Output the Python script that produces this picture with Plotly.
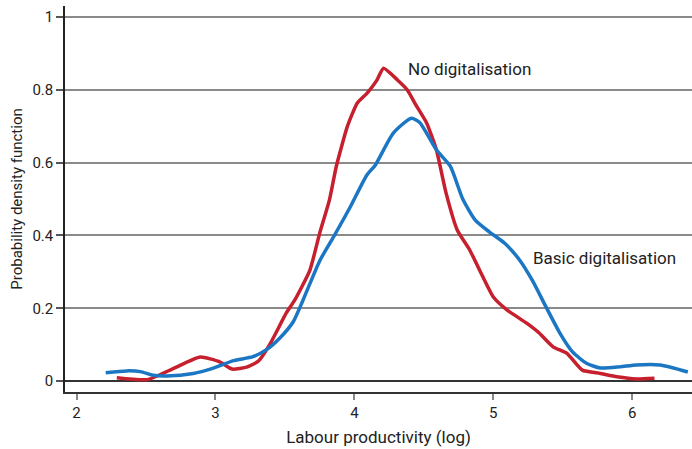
import plotly.graph_objects as go

# Kernel density of labour productivity (log), by digitalisation level
no_digi_x = [2.29, 2.51, 2.70, 2.89, 3.03, 3.12, 3.23, 3.31, 3.39, 3.51, 3.57, 3.68, 3.75,
             3.82, 3.87, 3.95, 4.02, 4.09, 4.16, 4.21, 4.31, 4.38, 4.44, 4.52, 4.59, 4.66,
             4.74, 4.83, 4.92, 5.00, 5.10, 5.24, 5.33, 5.43, 5.53, 5.64, 5.77, 5.89, 6.03, 6.16]
no_digi_y = [0.009, 0.004, 0.035, 0.066, 0.053, 0.033, 0.039, 0.055, 0.10, 0.187, 0.222, 0.305, 0.406,
             0.497, 0.59, 0.70, 0.763, 0.79, 0.825, 0.859, 0.827, 0.80, 0.76, 0.709, 0.635, 0.516,
             0.415, 0.36, 0.29, 0.231, 0.195, 0.159, 0.132, 0.094, 0.076, 0.030, 0.021, 0.012, 0.006, 0.008]

basic_digi_x = [2.21, 2.36, 2.46, 2.55, 2.65, 2.84, 2.98, 3.13, 3.27, 3.37, 3.46, 3.56, 3.63,
                3.75, 3.85, 3.97, 4.09, 4.15, 4.28, 4.41, 4.47, 4.59, 4.69, 4.78, 4.87, 4.97, 5.08,
                5.19, 5.28, 5.38, 5.48, 5.57, 5.67, 5.77, 5.91, 6.03, 6.20, 6.40]
basic_digi_y = [0.023, 0.028, 0.026, 0.016, 0.014, 0.021, 0.035, 0.056, 0.067, 0.087, 0.117, 0.163, 0.222,
                0.33, 0.396, 0.478, 0.566, 0.593, 0.681, 0.722, 0.71, 0.635, 0.59, 0.50, 0.442, 0.41, 0.379,
                0.332, 0.277, 0.203, 0.131, 0.08, 0.049, 0.036, 0.039, 0.044, 0.044, 0.025]

x_ticks = [2, 3, 4, 5, 6]
y_ticks = [0, 0.2, 0.4, 0.6, 0.8, 1]
y_tick_text = ["0", "0.2", "0.4", "0.6", "0.8", "1"]

RED = "#c61f2e"
BLUE = "#1b76c3"
FONT = "Roboto, 'Open Sans', sans-serif"

fig = go.Figure()
fig.add_trace(go.Scatter(x=no_digi_x, y=no_digi_y, mode="lines",
                         line=dict(color=RED, width=3.5, shape="spline", smoothing=0.5),
                         name="No digitalisation", showlegend=False))
fig.add_trace(go.Scatter(x=basic_digi_x, y=basic_digi_y, mode="lines",
                         line=dict(color=BLUE, width=3.5, shape="spline", smoothing=0.6),
                         name="Basic digitalisation", showlegend=False))

fig.add_annotation(x=4.37, y=0.858, text="No digitalisation", showarrow=False,
                   xanchor="left", yanchor="middle", font=dict(size=17, color="#222"))
fig.add_annotation(x=5.27, y=0.338, text="Basic digitalisation", showarrow=False,
                   xanchor="left", yanchor="middle", font=dict(size=17, color="#222"))

fig.update_layout(
    width=692, height=449,
    margin=dict(l=65, r=0, t=6, b=57),
    paper_bgcolor="white", plot_bgcolor="white",
    font=dict(family=FONT, size=15, color="#222"),
    xaxis=dict(range=[1.917, 6.43], tickvals=x_ticks, showgrid=False, zeroline=False,
               showline=True, linecolor="#333", linewidth=1.5,
               ticks="outside", ticklen=6, tickcolor="#888", tickwidth=1.5,
               title=dict(text="Labour productivity (log)", font=dict(size=17), standoff=10),
               tickfont=dict(size=15)),
    yaxis=dict(range=[-0.03, 1.03], tickvals=y_ticks, ticktext=y_tick_text,
               showgrid=True, gridcolor="#8a8a8a", gridwidth=1.5,
               zeroline=True, zerolinecolor="#333", zerolinewidth=1.5,
               showline=True, linecolor="#222", linewidth=1.5,
               ticks="outside", ticklen=7, tickcolor="#555", tickwidth=1.5,
               title=dict(text="Probability density function", font=dict(size=15), standoff=6),
               tickfont=dict(size=15)),
)

fig.write_html("out.html")
